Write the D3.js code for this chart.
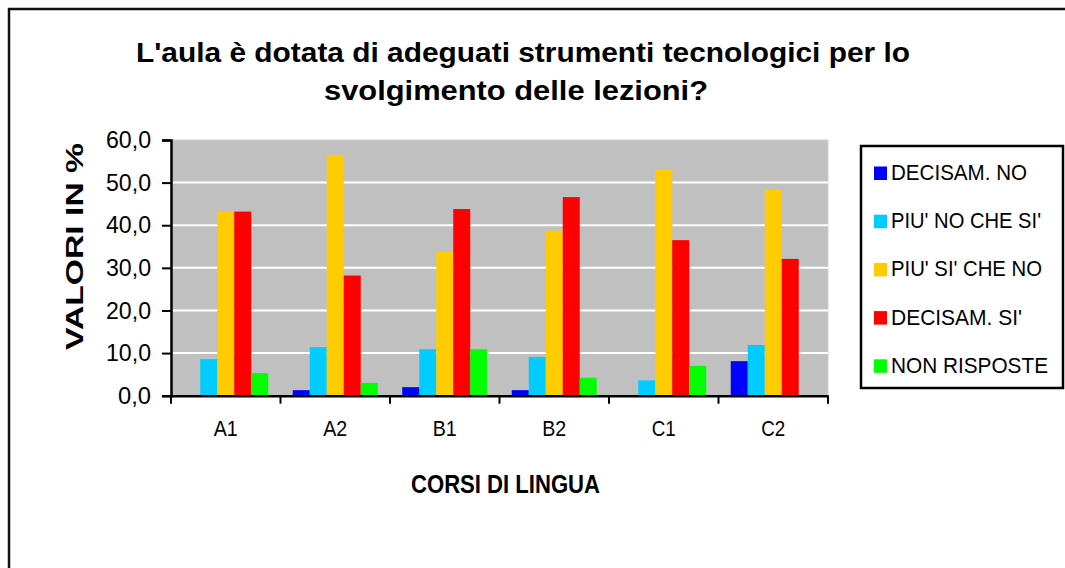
<!DOCTYPE html>
<html>
<head>
<meta charset="utf-8">
<script src="https://cdn.jsdelivr.net/npm/d3@7"></script>
<style>
  body { margin: 0; background: #fff; }
  text { font-family: "Liberation Sans", Arial, sans-serif; }
</style>
</head>
<body>
<svg width="1065" height="568"></svg>
<script>
// corsi e serie
const categories = ["A1", "A2", "B1", "B2", "C1", "C2"]
const seriesNames = ["DECISAM. NO", "PIU' NO CHE SI'", "PIU' SI' CHE NO", "DECISAM. SI'", "NON RISPOSTE"]
const seriesColors = ["#0000FF", "#00CCFF", "#FFCC00", "#FF0000", "#00FF00"]

// valori in %
const decisamNo   = [0.0, 1.3, 2.0, 1.3, 0.0, 8.1]
const piuNoCheSi  = [8.6, 11.4, 10.9, 9.1, 3.6, 11.9]
const piuSiCheNo  = [43.2, 56.5, 33.7, 38.7, 53.2, 48.3]
const decisamSi   = [43.2, 28.2, 43.8, 46.6, 36.5, 32.1]
const nonRisposte = [5.3, 3.0, 10.9, 4.2, 7.0, 0.0]

const yTicks = [0, 10, 20, 30, 40, 50, 60]

const seriesValues = [decisamNo, piuNoCheSi, piuSiCheNo, decisamSi, nonRisposte]

const svg = d3.select("svg")

// bordo esterno
svg.append("path")
  .attr("d", "M9,568 V9 H1065")
  .attr("fill", "none")
  .attr("stroke", "#111")
  .attr("stroke-width", 2.5)

// titolo
svg.append("text")
  .attr("x", 136).attr("y", 62)
  .attr("font-size", 27.5).attr("font-weight", "bold")
  .attr("textLength", 774).attr("lengthAdjust", "spacingAndGlyphs")
  .text("L'aula è dotata di adeguati strumenti tecnologici per lo")
svg.append("text")
  .attr("x", 324).attr("y", 100)
  .attr("font-size", 27.5).attr("font-weight", "bold")
  .attr("textLength", 384).attr("lengthAdjust", "spacingAndGlyphs")
  .text("svolgimento delle lezioni?")

const margin = {left: 171, top: 140, right: 828, bottom: 395.7}

const y = d3.scaleLinear().domain([0, 60]).range([margin.bottom, margin.top])
const x0 = d3.scaleBand().domain(categories).range([margin.left, margin.right]).padding(0)
const gap = 24.5
const x1 = d3.scaleBand().domain(seriesNames).range([gap / 2, x0.bandwidth() - gap / 2]).padding(0)
const color = d3.scaleOrdinal().domain(seriesNames).range(seriesColors)

// sfondo area del grafico
svg.append("rect")
  .attr("x", margin.left).attr("y", margin.top)
  .attr("width", margin.right - margin.left).attr("height", margin.bottom - margin.top)
  .attr("fill", "#C0C0C0")
  .attr("stroke", "#D0D0D0").attr("stroke-width", 1)

// griglia
svg.append("g")
  .selectAll("line")
  .data(yTicks.filter(t => t > 0 && t < 60))
  .enter().append("line")
  .attr("x1", margin.left).attr("x2", margin.right)
  .attr("y1", d => y(d)).attr("y2", d => y(d))
  .attr("stroke", "#fff").attr("stroke-width", 2)

// barre
const groups = svg.append("g")
  .selectAll("g")
  .data(categories)
  .enter().append("g")
  .attr("transform", d => "translate(" + x0(d) + ",0)")

groups.selectAll("rect")
  .data((d, i) => seriesNames.map((key, s) => ({key: key, value: seriesValues[s][i]})))
  .enter().append("rect")
  .filter(d => d.value > 0)
  .attr("x", d => x1(d.key))
  .attr("y", d => y(d.value))
  .attr("width", x1.bandwidth())
  .attr("height", d => y(0) - y(d.value))
  .attr("fill", d => color(d.key))

// asse y
const yAxis = svg.append("g")
  .attr("transform", "translate(" + margin.left + ",0)")
  .call(d3.axisLeft(y).tickValues(yTicks).tickSize(9).tickPadding(11)
    .tickFormat(d => d3.format(".1f")(d).replace(".", ",")))
yAxis.select(".domain").attr("stroke", "#000").attr("stroke-width", 2.5)
yAxis.selectAll(".tick line").attr("stroke", "#000").attr("stroke-width", 2)
yAxis.selectAll(".tick text")
  .attr("font-size", 24).attr("fill", "#000")
  .attr("textLength", 45).attr("lengthAdjust", "spacingAndGlyphs")
  .style("font-family", "'Liberation Sans', Arial, sans-serif")
yAxis.selectAll(".tick text").filter(d => d < 10)
  .attr("textLength", 33)

// asse x
const xAxis = svg.append("g")
  .attr("transform", "translate(0," + margin.bottom + ")")
  .call(d3.axisBottom(x0).tickSize(0).tickPadding(24))
xAxis.select(".domain").attr("stroke", "#000").attr("stroke-width", 2.5)
xAxis.selectAll(".tick text")
  .attr("font-size", 22.5).attr("fill", "#000")
  .attr("textLength", 24).attr("lengthAdjust", "spacingAndGlyphs")
  .style("font-family", "'Liberation Sans', Arial, sans-serif")

// tacche tra le categorie
svg.append("g")
  .selectAll("line")
  .data(categories.map(c => x0(c)).concat([margin.right]))
  .enter().append("line")
  .attr("x1", d => d).attr("x2", d => d)
  .attr("y1", margin.bottom).attr("y2", margin.bottom + 8)
  .attr("stroke", "#000").attr("stroke-width", 2)

// titoli degli assi
svg.append("text")
  .attr("x", 411).attr("y", 493)
  .attr("font-size", 25).attr("font-weight", "bold")
  .attr("textLength", 189).attr("lengthAdjust", "spacingAndGlyphs")
  .text("CORSI DI LINGUA")

svg.append("text")
  .attr("transform", "translate(83,350) rotate(-90)")
  .attr("font-size", 23).attr("font-weight", "bold")
  .attr("textLength", 207).attr("lengthAdjust", "spacingAndGlyphs")
  .text("VALORI IN %")

// legenda
const legendBox = {x: 861, y: 146, w: 202, h: 242}
svg.append("rect")
  .attr("x", legendBox.x).attr("y", legendBox.y)
  .attr("width", legendBox.w).attr("height", legendBox.h)
  .attr("fill", "#fff").attr("stroke", "#000").attr("stroke-width", 2.5)

const legendWidths = [136, 150, 151, 131, 157]
const legend = svg.append("g")
  .selectAll("g")
  .data(seriesNames)
  .enter().append("g")
  .attr("transform", (d, i) => "translate(874," + (180 + i * 48.2) + ")")

legend.append("rect")
  .attr("x", 0).attr("y", -13.5)
  .attr("width", 13).attr("height", 13.5)
  .attr("fill", d => color(d))

legend.append("text")
  .attr("x", 17).attr("y", 0)
  .attr("font-size", 21.5)
  .attr("textLength", (d, i) => legendWidths[i]).attr("lengthAdjust", "spacingAndGlyphs")
  .text(d => d)
</script>
</body>
</html>
